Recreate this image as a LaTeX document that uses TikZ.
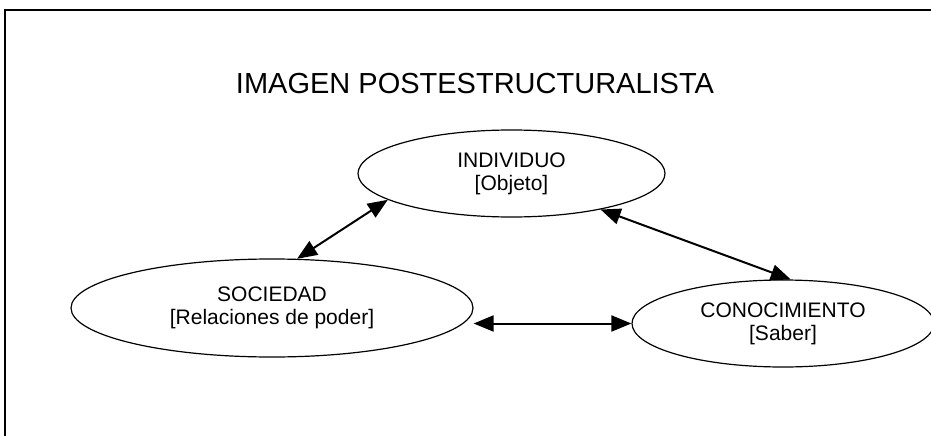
\documentclass[tikz,border=0pt]{standalone}
\usepackage{fontspec}
\setmainfont{Liberation Sans}
\usetikzlibrary{shapes.geometric,arrows.meta,positioning}

\begin{document}
\begin{tikzpicture}[x=1pt,y=1pt,on grid,
    idea/.style={ellipse,draw,line width=1.2pt,inner sep=0pt,align=center,
      font=\fontsize{21}{23}\selectfont},
    link/.style={line width=2pt,{Triangle[length=20pt,width=16pt]}-{Triangle[length=20pt,width=16pt]}}]
        \useasboundingbox (0,0) rectangle (931,-436);
        \draw[line width=2pt] (5,-440) -- (5,-10) -- (935,-10);
        \node[anchor=base,font=\fontsize{29}{34}\selectfont] (title) at (475,-93) {IMAGEN POSTESTRUCTURALISTA};
        \node[idea,minimum width=307pt,minimum height=87pt] (ind) at (511.5,-173.5) {INDIVIDUO\\ {[Objeto]}};
        \node[idea,minimum width=402pt,minimum height=98pt] (soc) [below left=134.5pt and 239.5pt of ind] {SOCIEDAD\\ {[Relaciones de poder]}};
        \node[idea,minimum width=302pt,minimum height=87pt] (con) [below right=150pt and 271.5pt of ind] {CONOCIMIENTO\\ {[Saber]}};
        \path[link]
        (soc.63) edge (ind.192)
        (ind.338) edge (con.80)
        (soc.east |- con.west) edge (con.west);
    \end{tikzpicture}
\end{document}
